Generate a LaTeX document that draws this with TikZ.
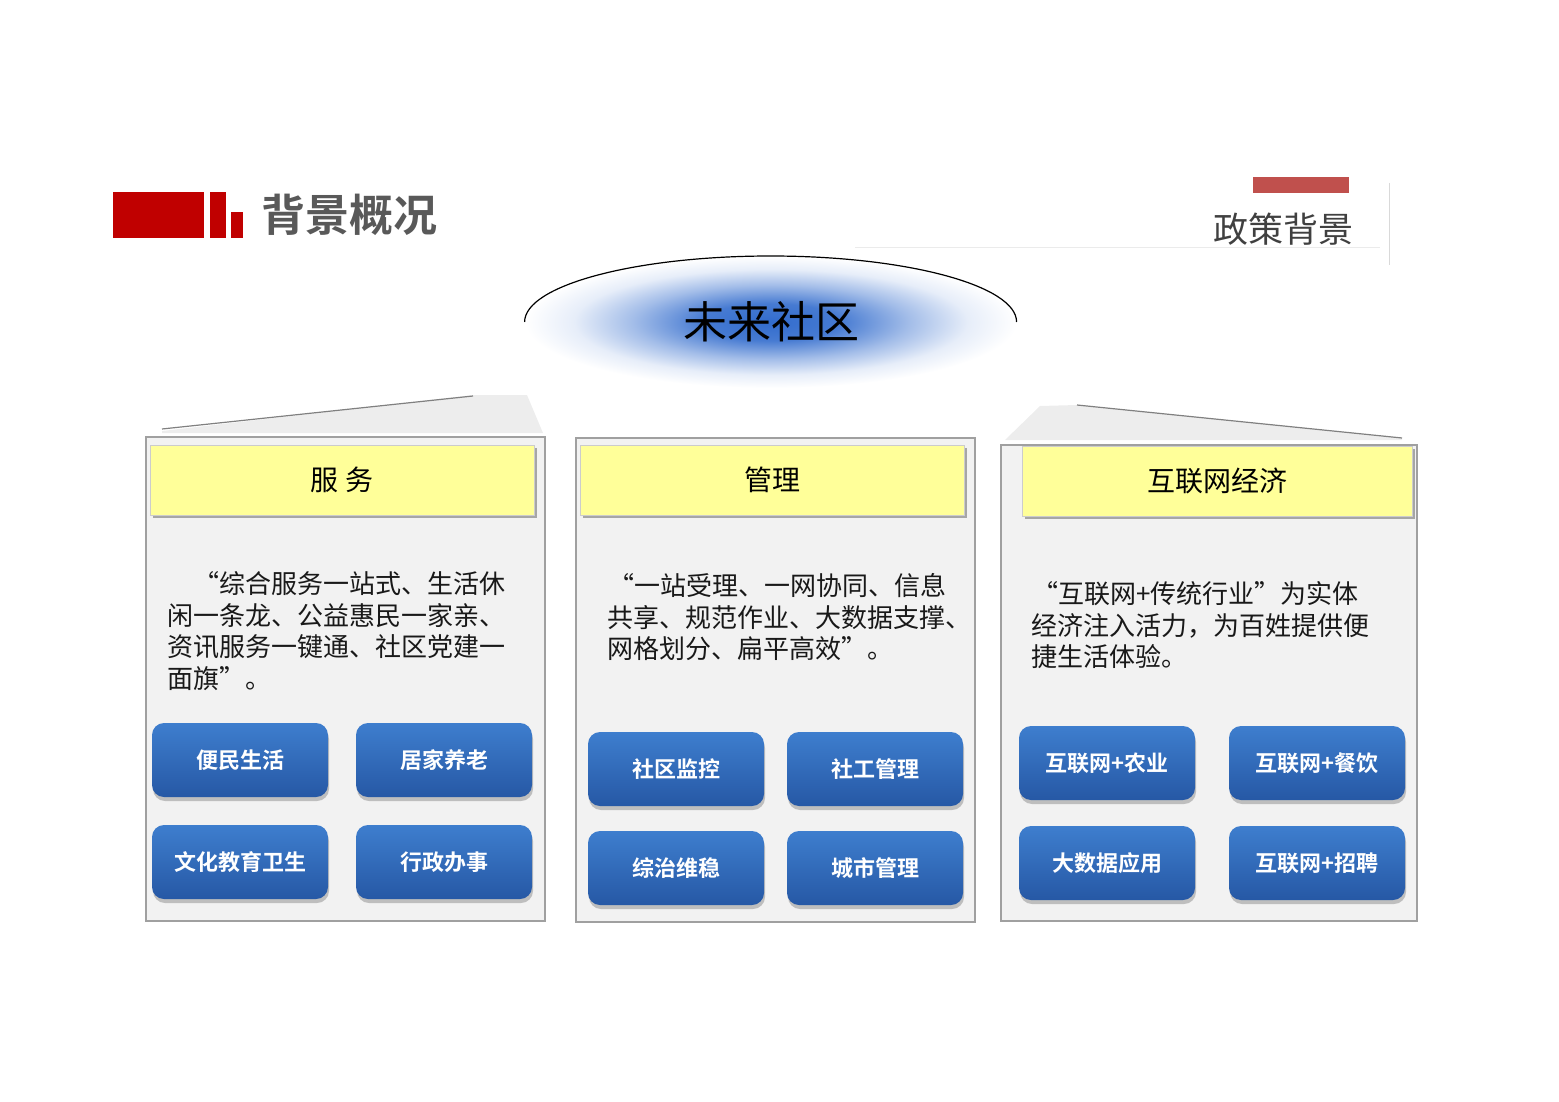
\documentclass[tikz,border=0pt]{standalone}
\usepackage{fontspec}
\usepackage{xcolor}
\usepackage{tikz}
\usetikzlibrary{shapes.geometric,shadows}
\setmainfont{Noto Sans CJK SC}[BoldFont={Noto Sans CJK SC Bold}]
\definecolor{brandred}{RGB}{192,0,0}
\definecolor{tabred}{RGB}{192,80,77}
\definecolor{titlegray}{RGB}{89,89,89}
\definecolor{panelgray}{RGB}{242,242,242}
\definecolor{edgegray}{RGB}{160,160,160}
\definecolor{headyellow}{RGB}{255,255,153}
\definecolor{btntop}{RGB}{62,126,206}
\definecolor{btnbot}{RGB}{38,88,165}
\definecolor{coreblue}{RGB}{50,108,205}
\pgfdeclareradialshading{glow}{\pgfpoint{0bp}{0bp}}{color(0bp)=(coreblue); color(7bp)=(coreblue!90!white); color(14bp)=(coreblue!45!white); color(20bp)=(coreblue!12!white); color(25bp)=(white); color(50bp)=(white)}

\begin{document}
\begin{tikzpicture}[x=0.5pt,y=-0.5pt]
    \def\bw{88pt}
    \def\bh{37pt}
    \tikzstyle{panel}=[draw=edgegray, fill=panelgray, line width=0.6pt]
    \tikzstyle{wing}=[fill=black!7]
    \tikzstyle{header}=[draw=black!20, fill=headyellow, minimum width=192pt, minimum height=35pt, font=\fontsize{14}{16}\selectfont, drop shadow={shadow xshift=1.5pt, shadow yshift=-1.5pt, fill=black!35, opacity=1}]
    \tikzstyle{btn}=[rounded corners=6pt, top color=btntop, bottom color=btnbot, minimum width=\bw, minimum height=\bh, text=white, font=\fontsize{11}{13}\selectfont\bfseries, drop shadow={shadow xshift=0.5pt, shadow yshift=-2pt, fill=black!45, opacity=0.5}]
    \tikzstyle{body}=[anchor=north west, inner sep=0pt, align=left, font=\fontsize{13}{15.8}\selectfont, text=black!90]

    \useasboundingbox (0,0) rectangle (1559,1102);

    \fill[brandred] (113,192) rectangle (204,238);
    \fill[brandred] (210,192) rectangle (226,238);
    \fill[brandred] (231,212) rectangle (243,238);
    \node[anchor=west, text=titlegray, font=\fontsize{22}{24}\selectfont\bfseries] (title) at (254,215) {背景概况};

    \fill[tabred] (1253,177) rectangle (1349,193);
    \node[text=black!75, font=\fontsize{17.5}{20}\selectfont] (policy) at (1283,229) {政策背景};
    \draw[black!8] (855,247) -- (1380,247);
    \draw[black!15] (1389,183) -- (1389,265);

    \node[ellipse, inner sep=0pt, minimum width=246pt, minimum height=66pt, shade, shading=glow, font=\fontsize{22}{24}\selectfont] (core) at (771,322) {未来社区};
    \draw[line width=0.6pt] (core.west) arc[start angle=180, end angle=0, x radius=123pt, y radius=33pt];

    \fill[wing] (162,431) -- (473,395) -- (527,395) -- (543,433) -- (162,433) -- cycle;
    \draw[black!50, line width=0.6pt] (162,429) -- (473,396);
    \fill[wing] (1005,440) -- (1040,406) -- (1077,405) -- (1402,438) -- (1402,440) -- cycle;
    \draw[black!50, line width=0.6pt] (1077,405) -- (1402,438);

    \draw[panel] (146,437) rectangle (545,921);
    \draw[panel] (576,438) rectangle (975,922);
    \draw[panel] (1001,445) rectangle (1417,921);

    \node[header] (svc) at (342,480) {服 务};
    \node[header] (mgt) at (772,480) {管理};
    \node[header, minimum width=195pt] (net) at (1217,481) {互联网经济};

    \node[body] (svctxt) at (167,571) {\hspace*{13pt}“综合服务一站式、生活休\\闲一条龙、公益惠民一家亲、\\资讯服务一键通、社区党建一\\面旗”。};
    \node[body] (mgttxt) at (607,573) {\hspace*{0.5pt}“一站受理、一网协同、信息\\共享、规范作业、大数据支撑、\\网格划分、扁平高效”。};
    \node[body] (nettxt) at (1031,581) {\hspace*{0.5pt}“互联网+传统行业”为实体\\经济注入活力，为百姓提供便\\捷生活体验。};

    \node[btn] (svc1) at (240,760) {便民生活};
    \node[btn] (svc2) at (444,760) {居家养老};
    \node[btn] (svc3) at (240,862) {文化教育卫生};
    \node[btn] (svc4) at (444,862) {行政办事};

    \node[btn] (mgt1) at (676,769) {社区监控};
    \node[btn] (mgt2) at (875,769) {社工管理};
    \node[btn] (mgt3) at (676,868) {综治维稳};
    \node[btn] (mgt4) at (875,868) {城市管理};

    \node[btn] (net1) at (1107,763) {互联网+农业};
    \node[btn] (net2) at (1317,763) {互联网+餐饮};
    \node[btn] (net3) at (1107,863) {大数据应用};
    \node[btn] (net4) at (1317,863) {互联网+招聘};
\end{tikzpicture}
\end{document}
